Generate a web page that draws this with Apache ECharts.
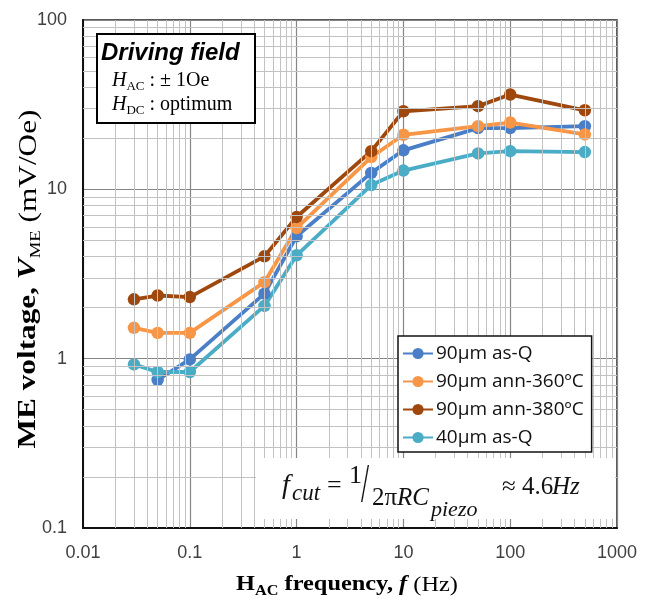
<!DOCTYPE html>
<html>
<head>
<meta charset="utf-8">
<script src="https://cdn.jsdelivr.net/npm/echarts@6/dist/echarts.min.js"></script>
<style>html,body{margin:0;padding:0;background:#fff}#c{width:648px;height:599px}</style>
</head>
<body>
<div id="c"></div>
<script>
// ---- data ----
var freqs = [0.03, 0.05, 0.1, 0.5, 1, 5, 10, 50, 100, 500];
var seriesNames = ['90µm as-Q', '90µm ann-360ºC', '90µm ann-380ºC', '40µm as-Q'];
var asQ90   = [null, 0.75, 0.99, 2.42, 5.28, 12.5, 17.0, 23.0, 23.0, 23.6];
var ann360  = [1.52, 1.42, 1.42, 2.83, 5.91, 15.5, 21.0, 23.6, 24.8, 21.1];
var ann380  = [2.24, 2.36, 2.31, 4.02, 6.86, 16.8, 28.9, 31.0, 36.3, 29.3];
var asQ40   = [0.925, 0.834, 0.834, 2.05, 4.08, 10.6, 12.9, 16.3, 16.8, 16.6];
var colors  = ['#4a7ec6', '#f79646', '#9e480e', '#4bacc6'];
var xDecades = [0.01, 0.1, 1, 10, 100];
var yDecades = [0.1, 1, 10];
var minorMult = [2, 3, 4, 5, 6, 7, 8, 9];

var allValues = [asQ90, ann360, ann380, asQ40];

function pairs(vals) {
  return freqs.map(function (f, i) { return [f, vals[i]]; });
}

var minorLines = [];
xDecades.forEach(function (d) { minorMult.forEach(function (m) { minorLines.push({ xAxis: +(m * d).toPrecision(3) }); }); });
yDecades.forEach(function (d) { minorMult.forEach(function (m) { minorLines.push({ yAxis: +(m * d).toPrecision(3) }); }); });

var series = [{
  type: 'line', data: [], z: -1, silent: true,
  markLine: {
    silent: true, symbol: ['none', 'none'], label: { show: false },
    lineStyle: { color: '#c2c2c2', width: 1, type: 'solid' },
    emphasis: { disabled: true },
    animation: false,
    data: minorLines
  }
}];
allValues.forEach(function (vals, i) {
  series.push({
    name: seriesNames[i], type: 'line', data: pairs(vals), z: 3,
    symbol: 'circle', symbolSize: 12.5, connectNulls: false,
    itemStyle: { color: colors[i] },
    lineStyle: { color: colors[i], width: 3.8 },
    emphasis: { disabled: true }
  });
});

function fmt(v) { return String(+(+v).toPrecision(3)); }

var serif = 'Liberation Serif';
var ink = '#111';

var chart = echarts.init(document.getElementById('c'), null, { renderer: 'canvas' });
chart.setOption({
  animation: false,
  backgroundColor: '#fff',
  grid: { left: 83, top: 20, right: 31, bottom: 71, show: true, borderColor: '#222', borderWidth: 1.5 },
  xAxis: {
    type: 'log', logBase: 10, min: 0.01, max: 1000,
    axisLine: { show: true, lineStyle: { color: '#111', width: 2 } },
    axisTick: { show: false },
    axisLabel: { formatter: fmt, color: '#404040', fontSize: 18, fontFamily: 'Liberation Sans', margin: 16 },
    splitLine: { show: true, lineStyle: { color: '#858585', width: 1.2 } }
  },
  yAxis: {
    type: 'log', logBase: 10, min: 0.1, max: 100,
    axisLine: { show: true, lineStyle: { color: '#111', width: 2 } },
    axisTick: { show: false },
    axisLabel: { formatter: fmt, color: '#404040', fontSize: 18, fontFamily: 'Liberation Sans', margin: 16 },
    splitLine: { show: true, lineStyle: { color: '#858585', width: 1.2 } }
  },
  legend: {
    data: seriesNames, orient: 'vertical', left: 398, top: 336, z: 120,
    backgroundColor: '#fff', borderColor: '#111', borderWidth: 1.5,
    padding: [8, 8, 5, 4], itemGap: 9, itemWidth: 30, itemHeight: 14,
    textStyle: { fontSize: 19, fontFamily: 'Open Sans', color: '#111', padding: [0, 0, 0, -2] }
  },
  graphic: [
    { type: 'rect', z: 100, shape: { x: 256, y: 458, width: 359, height: 61 }, style: { fill: '#fff' } },
    { type: 'rect', z: 100, shape: { x: 97, y: 34, width: 158, height: 89 }, style: { fill: '#fff', stroke: '#000', lineWidth: 2 } },
    { type: 'text', z: 101, style: { x: 101, y: 53, text: 'Driving field', font: 'italic bold 24px "Liberation Sans"', fill: '#000', verticalAlign: 'middle' } },
    { type: 'text', z: 101, style: { x: 112, y: 81, text: '{h|H}{s|AC}{n| : ± 1Oe}', verticalAlign: 'middle',
        rich: { h: { fontFamily: serif, fontStyle: 'italic', fontSize: 20, lineHeight: 24, verticalAlign: 'middle', color: '#000' },
                s: { fontFamily: serif, fontSize: 13, lineHeight: 14, verticalAlign: 'bottom', color: '#000' },
                n: { fontFamily: serif, fontSize: 20, lineHeight: 24, verticalAlign: 'middle', color: '#000' } } } },
    { type: 'text', z: 101, style: { x: 112, y: 105, text: '{h|H}{s|DC}{n| : optimum}', verticalAlign: 'middle',
        rich: { h: { fontFamily: serif, fontStyle: 'italic', fontSize: 20, lineHeight: 24, verticalAlign: 'middle', color: '#000' },
                s: { fontFamily: serif, fontSize: 13, lineHeight: 14, verticalAlign: 'bottom', color: '#000' },
                n: { fontFamily: serif, fontSize: 20, lineHeight: 24, verticalAlign: 'middle', color: '#000' } } } },
    // formula  f_cut = 1/(2πRC_piezo) ≈ 4.6Hz
    { type: 'text', z: 101, style: { x: 282, y: 486, text: 'f', font: 'italic 28px "' + serif + '"', fill: ink, verticalAlign: 'middle' } },
    { type: 'text', z: 101, style: { x: 292, y: 494, text: 'cut', font: 'italic 23px "' + serif + '"', fill: ink, verticalAlign: 'middle' } },
    { type: 'text', z: 101, style: { x: 327, y: 486, text: '=', font: '26px "' + serif + '"', fill: ink, verticalAlign: 'middle' } },
    { type: 'text', z: 101, style: { x: 349, y: 476, text: '1', font: '26px "' + serif + '"', fill: ink, verticalAlign: 'middle' } },
    { type: 'text', z: 101, x: 365, y: 487, scaleX: 1.0, scaleY: 1.9, style: { x: 0, y: 0, text: '/', font: '29px "' + serif + '"', fill: ink, align: 'center', verticalAlign: 'middle' } },
    { type: 'text', z: 101, style: { x: 372, y: 498, text: '2π', font: '25px "' + serif + '"', fill: ink, verticalAlign: 'middle' } },
    { type: 'text', z: 101, style: { x: 397, y: 498, text: 'RC', font: 'italic 25px "' + serif + '"', fill: ink, verticalAlign: 'middle' } },
    { type: 'text', z: 101, style: { x: 431, y: 510, text: 'piezo', font: 'italic 22px "' + serif + '"', fill: ink, verticalAlign: 'middle' } },
    { type: 'text', z: 101, style: { x: 502, y: 487, text: '≈ 4.6', font: '25px "' + serif + '"', fill: ink, verticalAlign: 'middle' } },
    { type: 'text', z: 101, style: { x: 552, y: 487, text: 'Hz', font: 'italic 25px "' + serif + '"', fill: ink, verticalAlign: 'middle' } },
    // y axis title
    { type: 'text', z: 101, rotation: Math.PI / 2, x: 29, y: 279, scaleX: 1.25, scaleY: 1, style: { x: 0, y: 0, text: '{b|ME voltage, }{bi|V}{s|ME}{n| (mV/Oe)}', align: 'center', verticalAlign: 'middle',
        rich: { b: { fontFamily: serif, fontWeight: 'bold', fontSize: 25, lineHeight: 30, verticalAlign: 'middle', color: '#000' },
                bi: { fontFamily: serif, fontWeight: 'bold', fontStyle: 'italic', fontSize: 25, lineHeight: 30, verticalAlign: 'middle', color: '#000' },
                s: { fontFamily: serif, fontSize: 15, lineHeight: 17, verticalAlign: 'bottom', color: '#000' },
                n: { fontFamily: serif, fontSize: 25, lineHeight: 30, verticalAlign: 'middle', color: '#000' } } } },
    // x axis title
    { type: 'text', z: 101, x: 347, y: 585, scaleX: 1.16, scaleY: 1, style: { x: 0, y: 0, text: '{b|H}{s|AC}{b| frequency, }{bi|f}{n| (Hz)}', align: 'center', verticalAlign: 'middle',
        rich: { b: { fontFamily: serif, fontWeight: 'bold', fontSize: 21, lineHeight: 26, verticalAlign: 'middle', color: '#000' },
                bi: { fontFamily: serif, fontWeight: 'bold', fontStyle: 'italic', fontSize: 21, lineHeight: 26, verticalAlign: 'middle', color: '#000' },
                s: { fontFamily: serif, fontWeight: 'bold', fontSize: 14, lineHeight: 15, verticalAlign: 'bottom', color: '#000' },
                n: { fontFamily: serif, fontSize: 21, lineHeight: 26, verticalAlign: 'middle', color: '#000' } } } }
  ],
  series: series
});
</script>
</body>
</html>
